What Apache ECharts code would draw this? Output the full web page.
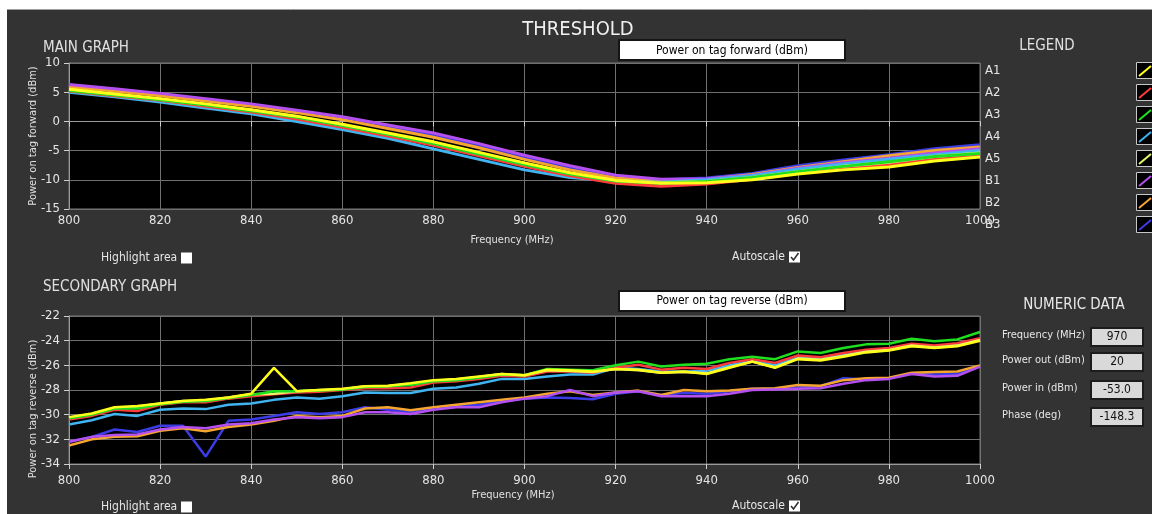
<!DOCTYPE html>
<html><head><meta charset="utf-8">
<script src="https://cdn.jsdelivr.net/npm/echarts@6.0.0/dist/echarts.min.js"></script>
<style>html,body{margin:0;padding:0;background:#fff;overflow:hidden}#c{width:1152px;height:514px;}</style>
</head><body><div id="c"></div>
<script>
// ---------- data ----------
const seriesNames = ['A1','A2','A3','A4','A5','B1','B2','B3'];
const seriesColors = ['#ffff1a','#ff3b3b','#1fe01f','#3fb4f0','#e4f56a','#b44ff0','#f5a530','#3c3ce6'];
const xTicks = [800,820,840,860,880,900,920,940,960,980,1000];

const freqMain = [800,810,820,830,840,850,860,870,880,890,900,910,920,930,940,950,960,970,980,990,1000];
const fwdA1 = [5.5,4.7,3.9,3.0,2.0,0.9,-0.5,-2.0,-3.5,-5.3,-7.1,-8.8,-10.1,-10.6,-10.5,-10.0,-9.0,-8.3,-7.8,-6.8,-6.1];
const fwdA2 = [5.2,4.4,3.6,2.6,1.6,0.4,-1.0,-2.5,-4.1,-5.9,-7.7,-9.3,-10.6,-11.1,-10.7,-9.9,-8.8,-8.0,-7.4,-6.4,-5.7];
const fwdA3 = [5.3,4.5,3.7,2.8,1.8,0.7,-0.7,-2.2,-3.8,-5.6,-7.4,-9.0,-10.2,-10.6,-10.3,-9.6,-8.6,-7.7,-6.9,-6.0,-5.5];
const fwdA4 = [5.0,4.2,3.3,2.3,1.3,0.0,-1.4,-2.9,-4.7,-6.5,-8.3,-9.6,-10.2,-10.4,-10.0,-9.3,-8.2,-7.3,-6.5,-5.7,-5.0];
const fwdA5 = [5.4,4.6,3.8,2.9,1.9,0.8,-0.6,-2.1,-3.6,-5.4,-7.2,-8.9,-10.1,-10.5,-10.3,-9.6,-8.6,-7.7,-7.0,-6.0,-5.4];
const fwdB1 = [6.3,5.6,4.8,3.9,3.0,1.9,0.8,-0.6,-2.0,-3.8,-5.8,-7.6,-9.2,-9.9,-9.8,-9.2,-8.0,-7.1,-6.3,-5.4,-4.7];
const fwdB2 = [5.9,5.2,4.4,3.5,2.6,1.5,0.3,-1.2,-2.7,-4.5,-6.5,-8.3,-9.7,-10.2,-9.9,-9.1,-7.9,-6.9,-5.9,-5.0,-4.4];
const fwdB3 = [6.1,5.4,4.6,3.7,2.8,1.7,0.5,-0.9,-2.4,-4.2,-6.2,-8.0,-9.5,-10.0,-9.7,-8.9,-7.6,-6.6,-5.7,-4.7,-4.0];

const freqSec = [800,805,810,815,820,825,830,835,840,845,850,855,860,865,870,875,880,885,890,895,900,905,910,915,920,925,930,935,940,945,950,955,960,965,970,975,980,985,990,995,1000];
const revA1 = [-30.2,-29.9,-29.4,-29.3,-29.1,-28.9,-28.8,-28.6,-28.3,-26.2,-28.1,-28.0,-27.9,-27.7,-27.66,-27.45,-27.2,-27.1,-26.9,-26.7,-26.8,-26.35,-26.4,-26.5,-26.3,-26.35,-26.6,-26.5,-26.7,-26.2,-25.7,-26.2,-25.5,-25.6,-25.3,-24.95,-24.8,-24.45,-24.6,-24.45,-24.0];
const revA2 = [-30.4,-30.1,-29.6,-29.7,-29.2,-29.0,-29.0,-28.7,-28.5,-28.35,-28.2,-28.15,-28.0,-27.85,-27.85,-27.8,-27.4,-27.3,-27.1,-26.85,-26.9,-26.5,-26.5,-26.6,-26.2,-25.95,-26.35,-26.2,-26.3,-25.8,-25.5,-25.8,-25.2,-25.35,-25.0,-24.73,-24.6,-24.25,-24.4,-24.2,-23.8];
const revA3 = [-30.3,-30.0,-29.5,-29.5,-29.15,-28.95,-28.9,-28.65,-28.4,-28.1,-28.1,-28.05,-27.95,-27.75,-27.7,-27.6,-27.3,-27.2,-27.0,-26.75,-26.8,-26.3,-26.35,-26.4,-26.0,-25.7,-26.1,-25.95,-25.87,-25.5,-25.3,-25.5,-24.87,-25.0,-24.6,-24.3,-24.25,-23.84,-24.05,-23.9,-23.3];
const revA4 = [-30.8,-30.45,-29.95,-30.1,-29.6,-29.5,-29.55,-29.2,-29.1,-28.8,-28.6,-28.7,-28.5,-28.2,-28.25,-28.25,-27.9,-27.8,-27.5,-27.1,-27.1,-26.9,-26.75,-26.75,-26.2,-26.3,-26.5,-26.5,-26.45,-26.0,-25.6,-26.0,-25.35,-25.45,-25.15,-24.85,-24.7,-24.35,-24.55,-24.35,-23.95];
const revA5 = [-30.25,-29.95,-29.45,-29.35,-29.1,-28.9,-28.85,-28.6,-28.35,-28.3,-28.1,-28.0,-27.95,-27.7,-27.7,-27.5,-27.25,-27.15,-26.95,-26.7,-26.8,-26.4,-26.45,-26.55,-26.3,-26.4,-26.6,-26.55,-26.65,-26.15,-25.7,-26.15,-25.45,-25.55,-25.25,-24.9,-24.75,-24.4,-24.55,-24.4,-23.95];
const revB1 = [-32.2,-31.8,-31.65,-31.6,-31.2,-31.0,-31.1,-30.8,-30.7,-30.4,-30.2,-30.3,-30.2,-29.8,-29.8,-29.95,-29.6,-29.4,-29.4,-29.0,-28.7,-28.5,-28.0,-28.5,-28.2,-28.1,-28.5,-28.5,-28.5,-28.3,-28.0,-27.95,-27.9,-27.85,-27.5,-27.2,-27.1,-26.7,-26.9,-26.85,-26.1];
const revB2 = [-32.5,-32.0,-31.8,-31.75,-31.3,-31.1,-31.35,-31.0,-30.8,-30.5,-30.1,-30.2,-30.1,-29.5,-29.4,-29.65,-29.4,-29.2,-29.0,-28.8,-28.6,-28.3,-28.1,-28.4,-28.2,-28.05,-28.4,-28.0,-28.1,-28.05,-27.9,-27.85,-27.6,-27.65,-27.2,-27.05,-27.0,-26.6,-26.55,-26.5,-26.0];
const revB3 = [-32.2,-31.8,-31.2,-31.4,-30.9,-30.9,-33.4,-30.5,-30.4,-30.1,-29.8,-29.95,-29.8,-29.4,-29.6,-29.8,-29.5,-29.3,-29.2,-28.9,-28.7,-28.6,-28.65,-28.75,-28.3,-28.1,-28.4,-28.25,-28.3,-28.1,-27.9,-27.9,-27.8,-27.7,-27.05,-27.15,-27.05,-26.65,-26.75,-26.7,-26.1];

const numericLabels = ['Frequency (MHz)','Power out (dBm)','Power in (dBm)','Phase (deg)'];
const numericValues = ['970','20','-53.0','-148.3'];

// ---------- build ----------
const FONT = '"DejaVu Sans Condensed","DejaVu Sans",sans-serif';
const fwdData = {A1:fwdA1,A2:fwdA2,A3:fwdA3,A4:fwdA4,A5:fwdA5,B1:fwdB1,B2:fwdB2,B3:fwdB3};
const revData = {A1:revA1,A2:revA2,A3:revA3,A4:revA4,A5:revA5,B1:revB1,B2:revB2,B3:revB3};
const drawOrder = ['B3','B2','B1','A4','A2','A5','A3','A1'];
const colorOf = n => seriesColors[seriesNames.indexOf(n)];
const zip = (xs, ys) => xs.map((x, i) => [x, ys[i]]);

const series = [];
drawOrder.forEach(n => series.push({name:n,type:'line',xAxisIndex:0,yAxisIndex:0,showSymbol:false,smooth:false,
  lineStyle:{width:3,color:colorOf(n)},itemStyle:{color:colorOf(n)},data:zip(freqMain,fwdData[n]),animation:false}));
drawOrder.forEach(n => series.push({name:n,type:'line',xAxisIndex:1,yAxisIndex:1,showSymbol:false,smooth:false,
  lineStyle:{width:2.5,color:colorOf(n)},itemStyle:{color:colorOf(n)},data:zip(freqSec,revData[n]),animation:false}));

const plain = v => String(v);
const axisCommonX = {type:'value',min:800,max:1000,interval:20,
  axisLine:{show:true,lineStyle:{color:'#9a9a9a'}},axisTick:{show:true,length:5,lineStyle:{color:'#cfcfcf'}},
  splitLine:{show:true,lineStyle:{color:'#707070',width:1}},
  axisLabel:{color:'#e6e6e6',fontSize:13,fontFamily:FONT,formatter:plain}};
const axisCommonY = {type:'value',
  axisLine:{show:true,lineStyle:{color:'#9a9a9a'}},axisTick:{show:true,length:5,lineStyle:{color:'#cfcfcf'}},
  splitLine:{show:true,lineStyle:{color:'#707070',width:1}},
  axisLabel:{color:'#e6e6e6',fontSize:13,fontFamily:FONT,margin:9,formatter:plain}};

const G = [];
function txt(x,y,text,size,color,align,vAlign,rot){
  G.push({type:'text',x:x,y:y,rotation:rot||0,silent:true,z:100,style:{text:text,fill:color||'#e6e6e6',fontSize:size,fontFamily:FONT,
    align:align||'left',verticalAlign:vAlign||'middle',textAlign:align||'left',textVerticalAlign:vAlign||'middle'}});
}
function rect(x,y,w,h,fill,stroke,lw,z){
  G.push({type:'rect',silent:true,z:z==null?1:z,shape:{x:x,y:y,width:w,height:h},style:{fill:fill,stroke:stroke||null,lineWidth:lw||0}});
}
function line(x1,y1,x2,y2,color,w,z){
  G.push({type:'line',silent:true,z:z==null?100:z,shape:{x1:x1,y1:y1,x2:x2,y2:y2},style:{stroke:color,lineWidth:w}});
}
// background panel
G.push({type:'rect',silent:true,z:-10,shape:{x:7,y:9,width:1150,height:510},style:{fill:'#333333'}});
line(7,9.5,1152,9.5,'#a0a0a0',1,-9);

txt(578,30,'THRESHOLD',20,'#f0f0f0','center','middle');
txt(43,48,'MAIN GRAPH',15,'#e0e0e0','left','middle');
txt(43,287,'SECONDARY GRAPH',15,'#e0e0e0','left','middle');
txt(1047,46,'LEGEND',15,'#e0e0e0','center','middle');
txt(1074,305,'NUMERIC DATA',15,'#e8e8e8','center','middle');

// series selector boxes
rect(619,40,226,20,'#ffffff','#151515',2,50);
txt(732,50.5,'Power on tag forward (dBm)',12,'#000','center','middle');
rect(619,291,226,20,'#ffffff','#151515',2,50);
txt(732,301,'Power on tag reverse (dBm)',12,'#000','center','middle');

// axis names
txt(33,136,'Power on tag forward (dBm)',11,'#e0e0e0','center','middle',Math.PI/2);
txt(33,409,'Power on tag reverse (dBm)',11,'#e0e0e0','center','middle',Math.PI/2);
txt(512,240,'Frequency (MHz)',11,'#e0e0e0','center','middle');
txt(513,495,'Frequency (MHz)',11,'#e0e0e0','center','middle');

// checkboxes
function checkbox(label,xText,xBox,y,checked){
  txt(xText,y,label,12,'#e6e6e6','left','middle');
  rect(xBox,y-5.5,11,11,'#ffffff','#ffffff',0,50);
  if(checked){
    G.push({type:'polyline',silent:true,z:101,shape:{points:[[xBox+2,y],[xBox+4.5,y+3],[xBox+9.5,y-4]]},style:{stroke:'#303030',lineWidth:1.6,fill:null}});
  }
}
checkbox('Highlight area',101,181,258,false);
checkbox('Autoscale',732,789,257,true);
checkbox('Highlight area',101,181,507,false);
checkbox('Autoscale',732,789,506,true);

// series label list and swatches
seriesNames.forEach((n,i)=>{
  txt(985,70.5+22*i,n,13,'#e6e6e6','left','middle');
  rect(1136.5,62.5+22*i,20,16,'#000000','#c8c8c8',1,50);
  line(1139,76+22*i,1151,66+22*i,seriesColors[i],2,101);
});

// numeric data
const rowY = [337,362,390,417];
numericLabels.forEach((l,i)=>{
  txt(1002,rowY[i]-2,l,11,'#e6e6e6','left','middle');
  rect(1091,rowY[i]-9,52,18,'#d9d9d9','#1c1c1c',2,50);
  txt(1117,rowY[i],numericValues[i],12,'#111','center','middle');
});

const chart = echarts.init(document.getElementById('c'),null,{renderer:'canvas'});
chart.setOption({
  backgroundColor:'#ffffff',
  animation:false,
  grid:[
    {left:69,top:63,width:911,height:146,show:true,backgroundColor:'#000',borderColor:'#7a7a7a',borderWidth:1,containLabel:false},
    {left:69,top:316,width:911,height:148,show:true,backgroundColor:'#000',borderColor:'#7a7a7a',borderWidth:1,containLabel:false}
  ],
  xAxis:[
    Object.assign({},axisCommonX,{gridIndex:0,axisLabel:Object.assign({},axisCommonX.axisLabel,{margin:5})}),
    Object.assign({},axisCommonX,{gridIndex:1,axisLabel:Object.assign({},axisCommonX.axisLabel,{margin:10})})
  ],
  yAxis:[
    Object.assign({},axisCommonY,{gridIndex:0,min:-15,max:10,interval:5}),
    Object.assign({},axisCommonY,{gridIndex:1,min:-34,max:-22,interval:2})
  ],
  series:series,
  graphic:{elements:G}
});
</script></body></html>
